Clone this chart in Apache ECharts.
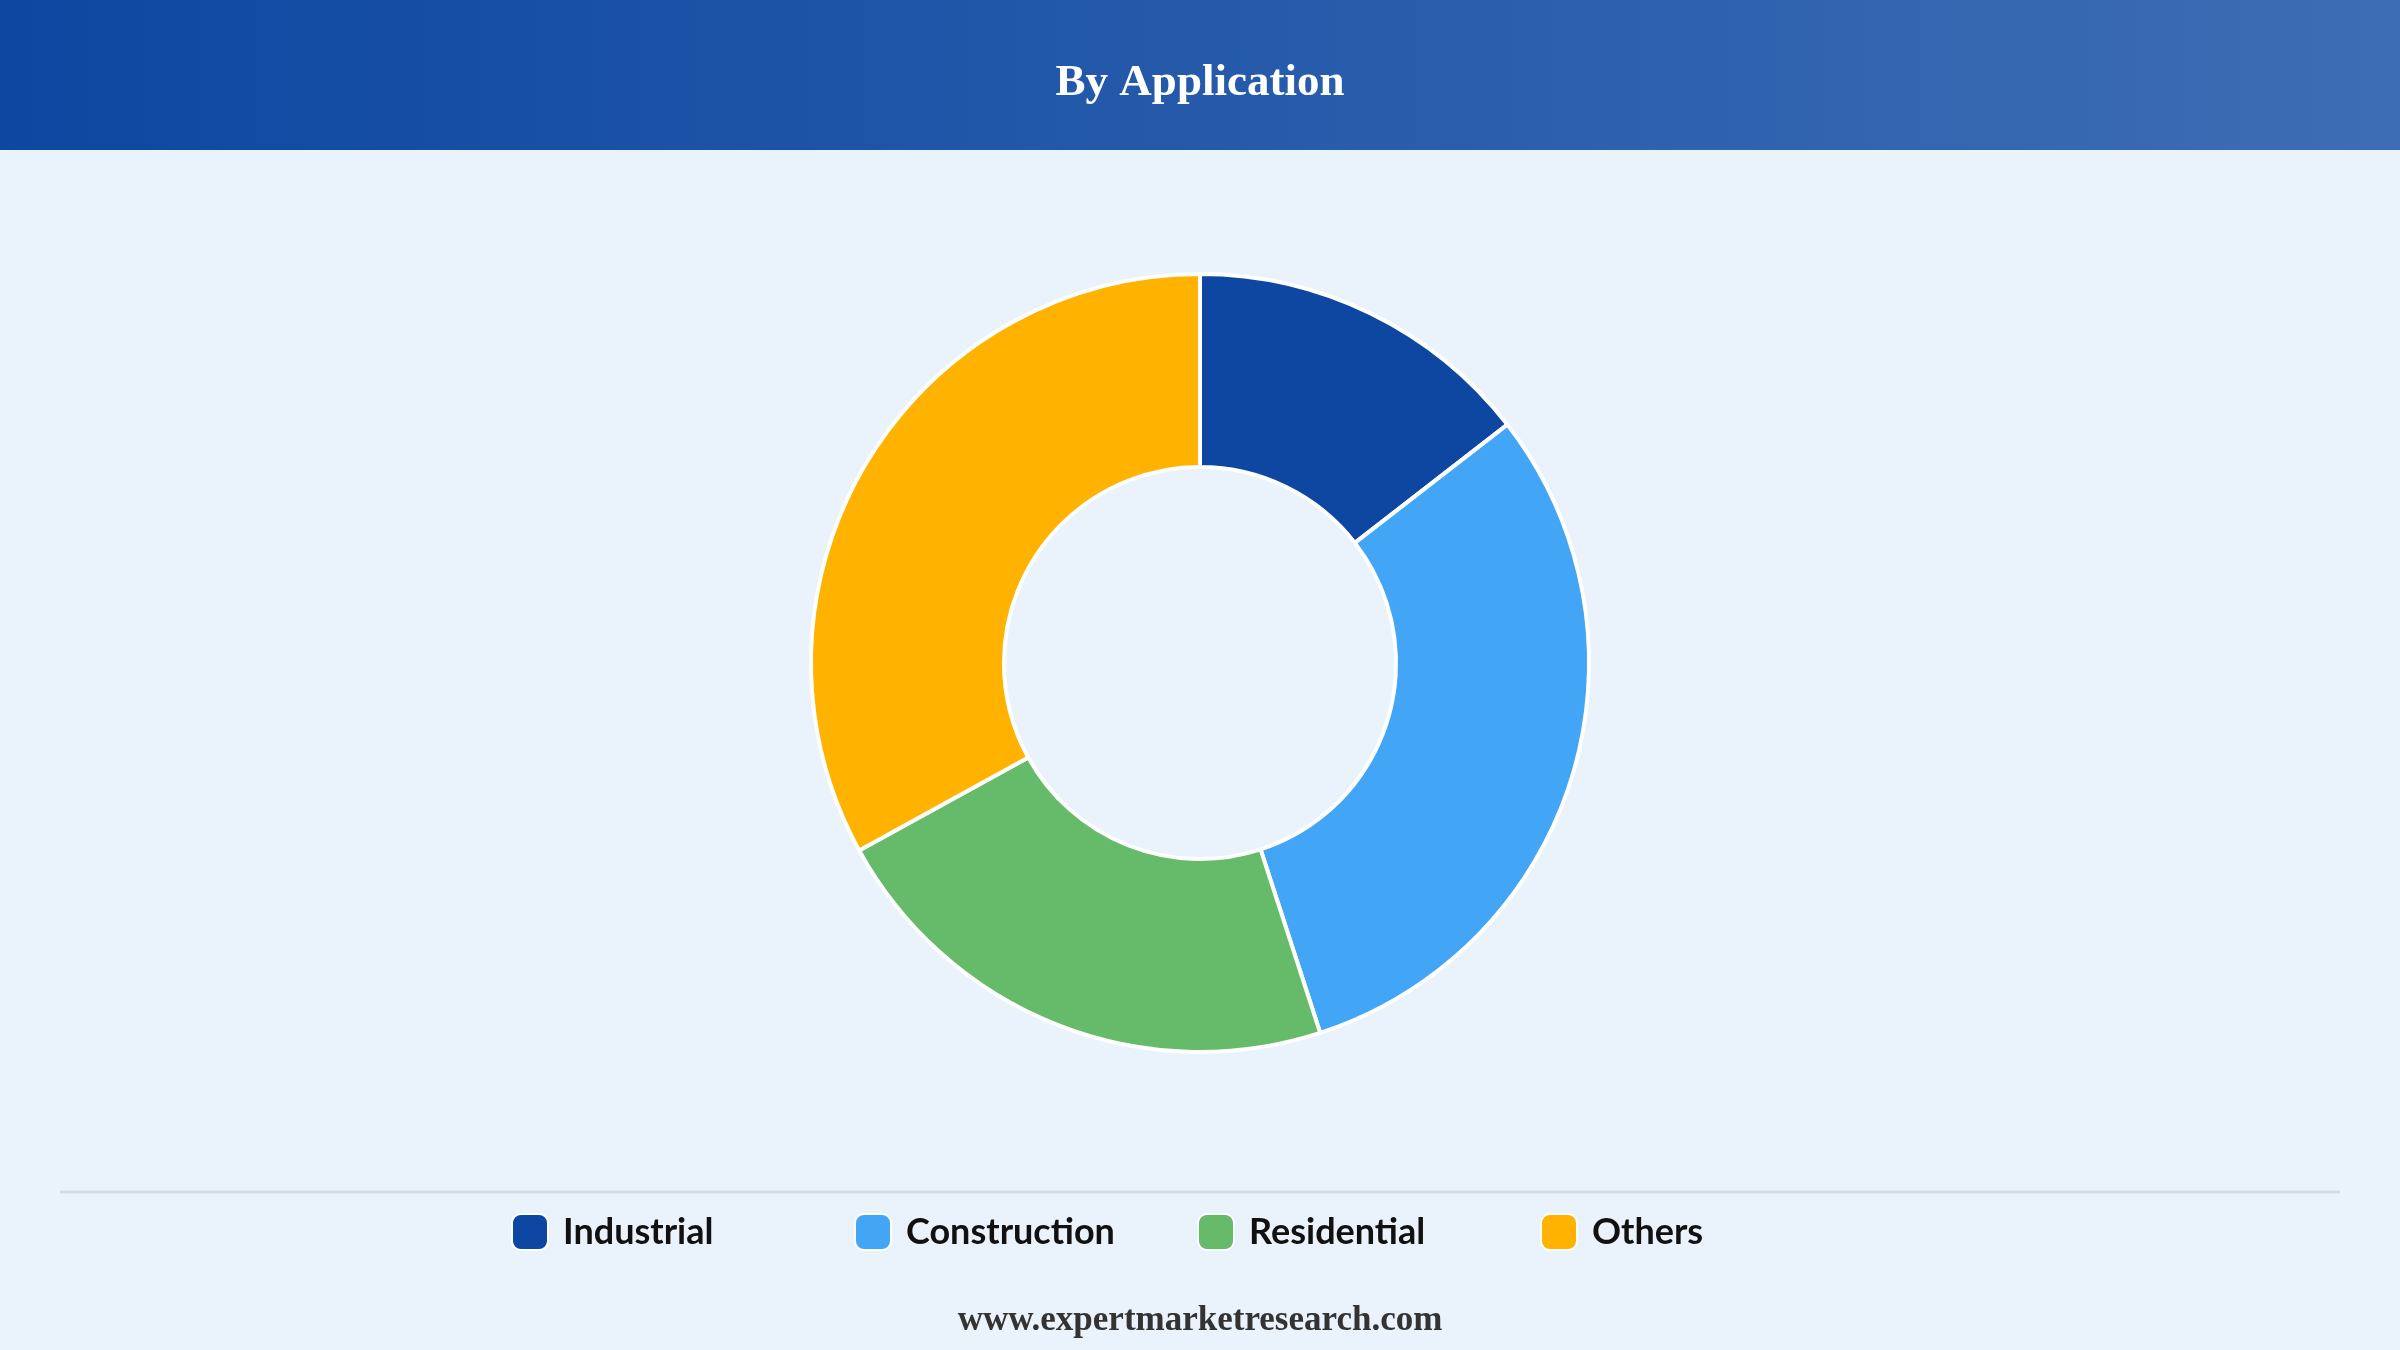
<!DOCTYPE html>
<html><head><meta charset="utf-8">
<script src="https://cdn.jsdelivr.net/npm/echarts@6/dist/echarts.min.js"></script>
<style>html,body{margin:0;padding:0;background:#eaf2fb}#c{width:2400px;height:1350px}</style>
</head><body><div id="c"></div>
<script>
const categories = ['Industrial', 'Construction', 'Residential', 'Others'];
const shares = [14.5, 30.5, 22, 33];
const colors = ['#0d47a1', '#42a5f5', '#66bb6a', '#ffb300'];
const legendLeft = [506, 849, 1192, 1535];

const chart = echarts.init(document.getElementById('c'));
chart.setOption({
  backgroundColor: '#eaf2fb',
  color: colors,
  graphic: [
    { type: 'rect', left: 0, top: 0, shape: { width: 2400, height: 150 },
      style: { fill: new echarts.graphic.LinearGradient(0, 0, 1, 0, [
        { offset: 0, color: '#0d47a1' }, { offset: 1, color: '#3d6db4' }]) } },
    { type: 'text', left: 'center', top: 61,
      style: { text: 'By Application', fill: '#fff', font: 'bold 45px "Liberation Serif", serif' } },
    { type: 'line', shape: { x1: 60, y1: 1192, x2: 2340, y2: 1192 },
      style: { stroke: '#d6dbe2', lineWidth: 3 } },
    { type: 'text', left: 'center', top: 1303,
      style: { text: 'www.expertmarketresearch.com', fill: '#333', font: 'bold 35px "Liberation Serif", serif' } }
  ],
  legend: categories.map((n, i) => ({
    left: legendLeft[i], top: 1208, itemWidth: 36, itemHeight: 36,
    icon: 'roundRect',
    textStyle: { fontSize: 36, fontWeight: 'bold', color: '#111', fontFamily: 'Lato, "Open Sans", sans-serif',
      padding: [0, 0, 0, 10] },
    data: [n]
  })),
  series: [{
    type: 'pie', center: [1200, 663], radius: [196, 389],
    startAngle: 90, clockwise: true,
    label: { show: false }, labelLine: { show: false },
    itemStyle: { borderColor: '#fff', borderWidth: 4 },
    data: categories.map((n, i) => ({ name: n, value: shares[i] }))
  }]
});
</script></body></html>
